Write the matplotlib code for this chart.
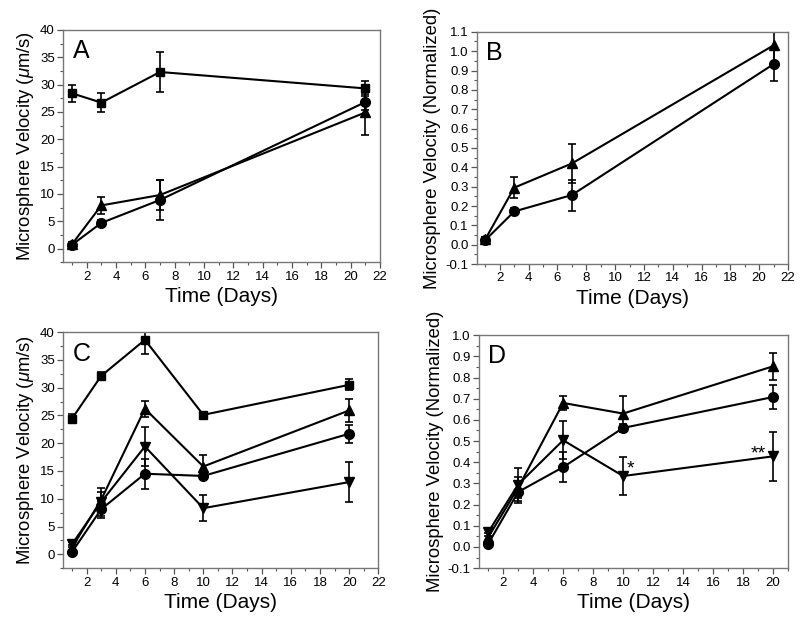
import numpy as np
import matplotlib
matplotlib.use('Agg')
import matplotlib.pyplot as plt
from matplotlib.ticker import MultipleLocator, FormatStrFormatter

plt.rcParams['font.family'] = ['Liberation Sans', 'DejaVu Sans']
plt.rcParams['axes.unicode_minus'] = False
plt.rcParams['mathtext.fontset'] = 'custom'
plt.rcParams['mathtext.rm'] = 'Liberation Sans'
plt.rcParams['mathtext.it'] = 'Liberation Sans:italic'

# panel A
days_a = [1, 3, 7, 21]
a_sq = [28.4, 26.7, 32.3, 29.3]
a_sq_err = [1.6, 1.8, 3.6, 1.4]
a_ci = [0.7, 4.7, 8.9, 26.8]
a_ci_err = [0.4, 0.5, 3.6, 1.5]
a_tr = [0.8, 7.9, 9.8, 24.9]
a_tr_err = [0.4, 1.5, 2.7, 4.2]

# panel B
days_b = [1, 3, 7, 21]
b_tr = [0.03, 0.295, 0.42, 1.03]
b_tr_err = [0.01, 0.055, 0.10, 0.10]
b_ci = [0.025, 0.172, 0.257, 0.933]
b_ci_err = [0.01, 0.02, 0.08, 0.085]

# panel C
days_c = [1, 3, 6, 10, 20]
c_sq = [24.4, 32.1, 38.6, 25.1, 30.5]
c_sq_err = [0.8, 0.7, 2.6, 0.5, 1.0]
c_tr = [1.2, 9.8, 26.2, 15.8, 25.9]
c_tr_err = [0.5, 1.5, 1.4, 2.1, 2.0]
c_ci = [0.4, 8.1, 14.5, 14.1, 21.7]
c_ci_err = [0.3, 1.5, 2.7, 0.5, 1.6]
c_dt = [1.8, 9.4, 19.4, 8.3, 13.0]
c_dt_err = [0.5, 2.5, 3.5, 2.3, 3.6]

# panel D
days_d = [1, 3, 6, 10, 20]
d_tr = [0.046, 0.28, 0.68, 0.63, 0.853]
d_tr_err = [0.02, 0.05, 0.035, 0.085, 0.065]
d_ci = [0.015, 0.26, 0.377, 0.562, 0.708]
d_ci_err = [0.01, 0.05, 0.07, 0.02, 0.055]
d_dt = [0.07, 0.295, 0.504, 0.335, 0.428]
d_dt_err = [0.02, 0.08, 0.09, 0.09, 0.116]

fig = plt.figure(figsize=(8, 6.23), dpi=100)
axA = fig.add_axes([0.079, 0.579, 0.396, 0.373])
axB = fig.add_axes([0.596, 0.576, 0.389, 0.373])
axC = fig.add_axes([0.079, 0.088, 0.394, 0.379])
axD = fig.add_axes([0.599, 0.088, 0.386, 0.374])


def series(ax, x, y, e, m):
    ax.errorbar(x, y, yerr=e, fmt='-', marker=m, color='black', lw=1.5,
                ms=7 if m != 's' else 6, elinewidth=1.2, capsize=3,
                capthick=1.2)


def style(ax, xmax, ymin, ymax, ymaj, ymin_step, ylab, letter, fmt):
    ax.set_xlim(0.4, xmax)
    ax.set_ylim(ymin, ymax)
    ax.xaxis.set_major_locator(MultipleLocator(2))
    ax.xaxis.set_minor_locator(MultipleLocator(1))
    ax.yaxis.set_major_locator(MultipleLocator(ymaj))
    ax.yaxis.set_minor_locator(MultipleLocator(ymin_step))
    ax.yaxis.set_major_formatter(FormatStrFormatter(fmt))
    ax.tick_params(which='major', length=4, width=0.9, labelsize=9.5, pad=2,
                   color='#555555')
    ax.tick_params(which='minor', length=2.5, width=0.8, color='#555555')
    for s in ax.spines.values():
        s.set_color('#777777')
        s.set_linewidth(1.0)
    ax.set_xlabel('Time (Days)', fontsize=15, labelpad=3)
    ax.set_ylabel(ylab, fontsize=13.3, labelpad=3)
    ax.text(0.03, 0.96, letter, transform=ax.transAxes, fontsize=18,
            va='top', ha='left')


series(axA, days_a, a_sq, a_sq_err, 's')
series(axA, days_a, a_ci, a_ci_err, 'o')
series(axA, days_a, a_tr, a_tr_err, '^')
style(axA, 22, -2.5, 40, 5, 2.5, r'Microsphere Velocity ($\mu$m/s)', 'A', '%d')

series(axB, days_b, b_tr, b_tr_err, '^')
series(axB, days_b, b_ci, b_ci_err, 'o')
style(axB, 22, -0.1, 1.1, 0.1, 0.05, 'Microsphere Velocity (Normalized)', 'B', '%.1f')

series(axC, days_c, c_sq, c_sq_err, 's')
series(axC, days_c, c_tr, c_tr_err, '^')
series(axC, days_c, c_ci, c_ci_err, 'o')
series(axC, days_c, c_dt, c_dt_err, 'v')
style(axC, 22, -2.5, 40, 5, 2.5, r'Microsphere Velocity ($\mu$m/s)', 'C', '%d')

series(axD, days_d, d_tr, d_tr_err, '^')
series(axD, days_d, d_ci, d_ci_err, 'o')
series(axD, days_d, d_dt, d_dt_err, 'v')
style(axD, 21, -0.1, 1.0, 0.1, 0.05, 'Microsphere Velocity (Normalized)', 'D', '%.1f')
axD.text(10.25, 0.33, '*', fontsize=14, ha='left', va='bottom')
axD.text(19.5, 0.40, '**', fontsize=14, ha='right', va='bottom')

fig.savefig('out.png', dpi=100)
